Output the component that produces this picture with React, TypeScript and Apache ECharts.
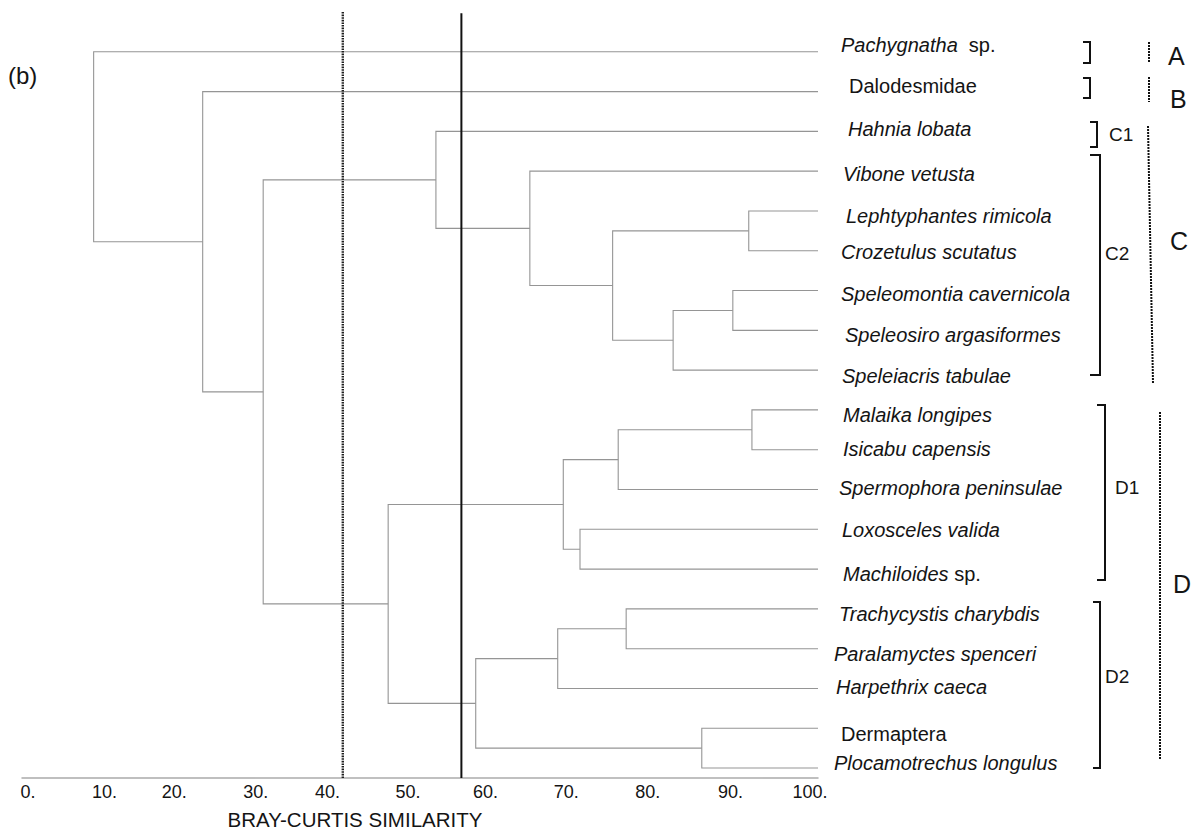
import { useEffect, useRef } from "react";
import * as echarts from "echarts";

// Leaves of the dendrogram, top to bottom
const taxa = [
  "Pachygnatha  sp.",
  "Dalodesmidae",
  "Hahnia lobata",
  "Vibone vetusta",
  "Lephtyphantes rimicola",
  "Crozetulus scutatus",
  "Speleomontia cavernicola",
  "Speleosiro argasiformes",
  "Speleiacris tabulae",
  "Malaika longipes",
  "Isicabu capensis",
  "Spermophora peninsulae",
  "Loxosceles valida",
  "Machiloides sp.",
  "Trachycystis charybdis",
  "Paralamyctes spenceri",
  "Harpethrix caeca",
  "Dermaptera",
  "Plocamotrechus longulus",
];

// Higher taxa are set upright, species names in italics
const uprightTaxa = ["Dalodesmidae", "Dermaptera"];

// Agglomeration steps: node 19 + k joins mergeA[k] and mergeB[k] at mergeSim[k] % similarity
const mergeA = [9, 4, 6, 17, 21, 14, 19, 20, 12, 25, 24, 3, 29, 2, 28, 32, 1, 0];
const mergeB = [10, 5, 7, 18, 8, 15, 11, 23, 13, 27, 16, 26, 22, 30, 31, 33, 34, 35];
const mergeSim = [
  91.7, 91.3, 89.3, 85.4, 81.8, 75.9, 74.9, 74.2, 70.1, 68.0, 67.3, 63.8, 57.0,
  52.0, 46.0, 30.3, 22.7, 9.0,
];

// Similarity cut levels (dotted, solid)
const cutLevels = [40.3, 55.2];

// Axis ticks
const xTicks = [0, 10, 20, 30, 40, 50, 60, 70, 80, 90, 100];

// Typesetting nudges of the leaf names (px right / px down of the leaf line end)
const nameDx = [23, 31, 30, 25, 28, 23, 23, 27, 24, 25, 25, 21, 24, 25, 21, 16, 18, 23, 16];
const nameDy = [-7, -6, -2.5, 2.5, 5, 1, 3, 5, 6, 5, -1, -2, 1, 5, 5, 5, -1, 6, -5];

// Typesetting nudges of the tick labels (px, + = right)
const tickNudge = [6, 3, -7, -5, -13, -12, -14, -13, -11, -8, -8];

function buildLinks() {
  const sim: number[] = taxa.map(() => 100);
  const pos: number[] = taxa.map((_, i) => i);
  const links: number[][] = [];
  mergeA.forEach((a, k) => {
    const b = mergeB[k];
    const h = mergeSim[k];
    links.push([sim[a], pos[a], sim[b], pos[b], h]);
    sim.push(h);
    pos.push((pos[a] + pos[b]) / 2);
  });
  return links;
}

function taxonText(name: string) {
  if (uprightTaxa.includes(name)) return `{n|${name}}`;
  const m = name.match(/^(.*?)(\s+sp\.)$/);
  if (m) return `{i|${m[1]}}{n|${m[2]}}`;
  return `{i|${name}}`;
}

const FONT = "'Liberation Sans', Arial, Helvetica, sans-serif";
const ink = "#141414";
const dotted = { stroke: "#111", lineWidth: 2, lineDash: [2, 1] };
const solidInk = { stroke: "#111", lineWidth: 2, fill: "none" };

const tickRich: Record<string, any> = {};
tickNudge.forEach((d, i) => {
  tickRich[`t${i}`] = {
    fontSize: 18,
    fontFamily: FONT,
    color: ink,
    padding: [0, d < 0 ? -2 * d : 0, 0, d > 0 ? 2 * d : 0],
  };
});

function bracket(x0: number, x1: number, y0: number, y1: number) {
  return {
    type: "polyline",
    shape: { points: [[x0, y0], [x1, y0], [x1, y1], [x0, y1]] },
    style: solidInk,
    silent: true,
  };
}
function vdots(xa: number, ya: number, xb: number, yb: number) {
  return {
    type: "line",
    shape: { x1: xa, y1: ya, x2: xb, y2: yb },
    style: dotted,
    silent: true,
  };
}
function label(text: string, x: number, y: number, size: number, align = "left") {
  return {
    type: "text",
    x,
    y,
    silent: true,
    style: {
      text,
      fill: ink,
      fontSize: size,
      fontFamily: FONT,
      align,
      verticalAlign: "middle",
      textAlign: align,
      textVerticalAlign: "middle",
    },
  };
}

export default function App() {
  const ref = useRef<HTMLDivElement>(null);

  useEffect(() => {
    document.body.style.margin = "0";
    if (!ref.current) return;
    const chart = echarts.init(ref.current, undefined, { renderer: "svg" });

    const links = buildLinks();
    const leafNames = taxa.map((name, i) => ({
      value: [100, i],
      name,
      label: { offset: [nameDx[i], nameDy[i]] },
    }));

    chart.setOption({
      animation: false,
      backgroundColor: "#ffffff",
      grid: { left: 22, right: 383, top: 12, bottom: 52, containLabel: false },
      xAxis: {
        type: "value",
        min: 0,
        max: 100,
        interval: 10,
        axisLine: { show: true, onZero: false, lineStyle: { color: "#ababab", width: 1.5 } },
        axisTick: { show: false },
        splitLine: { show: false },
        axisLabel: {
          margin: 5,
          color: ink,
          fontSize: 18,
          fontFamily: FONT,
          rich: tickRich,
          formatter: (v: number) => {
            const i = xTicks.indexOf(v);
            return i < 0 ? "" : `{t${i}|${v}.}`;
          },
        },
      },
      yAxis: {
        type: "value",
        inverse: true,
        min: -1,
        max: 18.25,
        interval: 1,
        show: false,
      },
      series: [
        {
          type: "custom",
          name: "dendrogram",
          data: links,
          encode: { x: [0, 2, 4], y: [1, 3] },
          renderItem: (_params: any, api: any) => {
            const hA = api.value(0);
            const yA = api.value(1);
            const hB = api.value(2);
            const yB = api.value(3);
            const h = api.value(4);
            return {
              type: "polyline",
              shape: {
                points: [
                  api.coord([hA, yA]),
                  api.coord([h, yA]),
                  api.coord([h, yB]),
                  api.coord([hB, yB]),
                ],
              },
              style: { stroke: "#959595", lineWidth: 1.1, fill: "none" },
            };
          },
          silent: true,
        },
        {
          type: "scatter",
          name: "taxa",
          data: leafNames,
          symbolSize: 0,
          silent: true,
          itemStyle: { opacity: 1, color: ink },
          label: {
            show: true,
            position: "left",
            align: "left",
            verticalAlign: "middle",
            distance: 0,
            color: ink,
            opacity: 1,
            textBorderWidth: 0,
            formatter: (p: any) => taxonText(p.name),
            rich: {
              i: { fontSize: 20, fontStyle: "italic", fontFamily: FONT, color: ink, textBorderWidth: 0 },
              n: { fontSize: 20, fontFamily: FONT, color: ink, textBorderWidth: 0 },
            },
          },
        },
        {
          type: "line",
          name: "cut dotted",
          data: [
            [cutLevels[0], -1],
            [cutLevels[0], 18.25],
          ],
          symbol: "none",
          lineStyle: { color: "#1e1e1e", width: 2.4, type: [1.6, 1] },
          silent: true,
        },
        {
          type: "line",
          name: "cut solid",
          data: [
            [cutLevels[1], -0.97],
            [cutLevels[1], 18.25],
          ],
          symbol: "none",
          lineStyle: { color: "#111", width: 2 },
          silent: true,
        },
      ],
      graphic: [
        label("(b)", 8, 75, 24),
        label("BRAY-CURTIS SIMILARITY", 355, 819, 20.5, "center"),
        // group brackets
        bracket(1083, 1090, 42, 63),
        bracket(1083, 1090, 78, 98),
        bracket(1090, 1097, 122, 147),
        bracket(1090, 1100, 155, 375),
        bracket(1097, 1105, 405, 580),
        bracket(1093, 1100, 602, 768),
        // cluster extents
        vdots(1149, 42, 1149, 63),
        vdots(1149, 77, 1149, 102),
        vdots(1148, 126, 1153, 383),
        vdots(1160, 412, 1160, 760),
        label("C1", 1109, 134, 19),
        label("C2", 1105, 253, 19),
        label("D1", 1115, 487, 19),
        label("D2", 1105, 676, 19),
        label("A", 1168, 56, 25),
        label("B", 1170, 99, 25),
        label("C", 1170, 241, 25),
        label("D", 1173, 584, 25),
      ],
    });

    return () => chart.dispose();
  }, []);

  return <div ref={ref} style={{ width: 1201, height: 830 }} />;
}
